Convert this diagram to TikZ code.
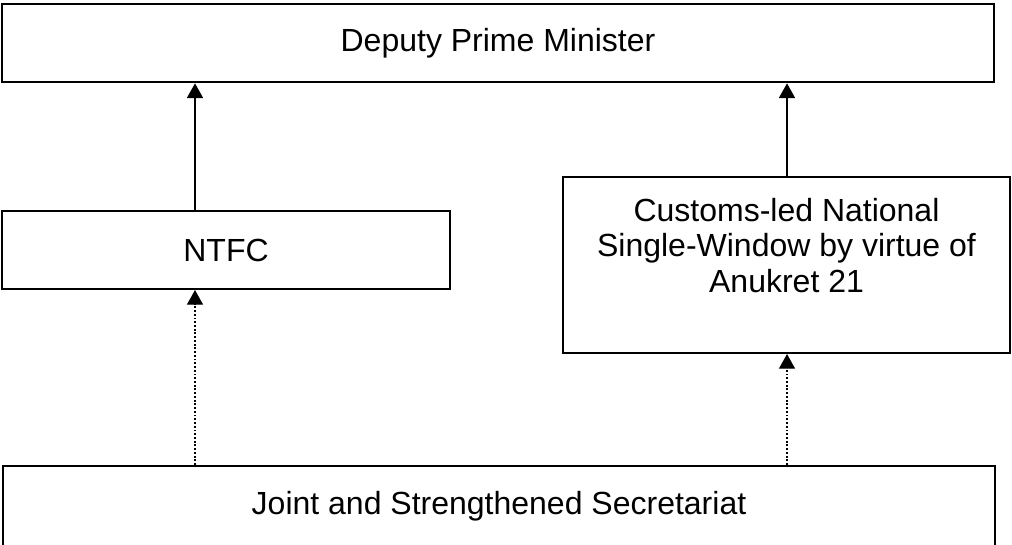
\documentclass[tikz,border=0pt]{standalone}
\usepackage{fontspec}
\setmainfont{Liberation Sans}
\usetikzlibrary{arrows.meta}
\tikzset{
  office box/.style = {draw, line width=1.5pt, inner sep=0pt, align=center},
  report/.style = {line width=1.1pt, -{Triangle[length=11pt,width=12pt]}},
  advise/.style = {line width=1pt, dash pattern=on 1.4pt off 1.4pt,
    -{Triangle[length=11pt,width=12pt]}}
}
\begin{document}
\begin{tikzpicture}[x=0.75pt,y=-0.75pt,font=\fontsize{24}{26.5}\selectfont]
  \useasboundingbox (0,0) rectangle (1012,544);
  \node[office box, line width=2pt, minimum width=744pt, minimum height=58.5pt]
    (dpm) at (498,43) {Deputy Prime Minister};
  \node[office box, minimum width=336pt, minimum height=58.5pt]
    (ntfc) at (226,250) {NTFC};
  \node[office box, minimum width=335.25pt, minimum height=132pt,
    label={[name=nswtext, anchor=north, align=center, inner sep=0pt,
      yshift=-16.5pt]north:Customs-led National\\Single-Window by virtue of\\Anukret 21}]
    (nsw) at (786.5,265) {};
  \node[office box, minimum width=744pt, minimum height=60pt]
    (jss) at (499,506) {Joint and Strengthened Secretariat};
  \coordinate (leftrail) at (195,0);
  \coordinate (rightrail) at (787,0);
  \draw[report] (ntfc.north -| leftrail) -- (dpm.south -| leftrail);
  \draw[report] (nsw.north -| rightrail) -- (dpm.south -| rightrail);
  \draw[advise] (jss.north -| leftrail) -- (ntfc.south -| leftrail);
  \draw[advise] (jss.north -| rightrail) -- (nsw.south -| rightrail);
\end{tikzpicture}
\end{document}
